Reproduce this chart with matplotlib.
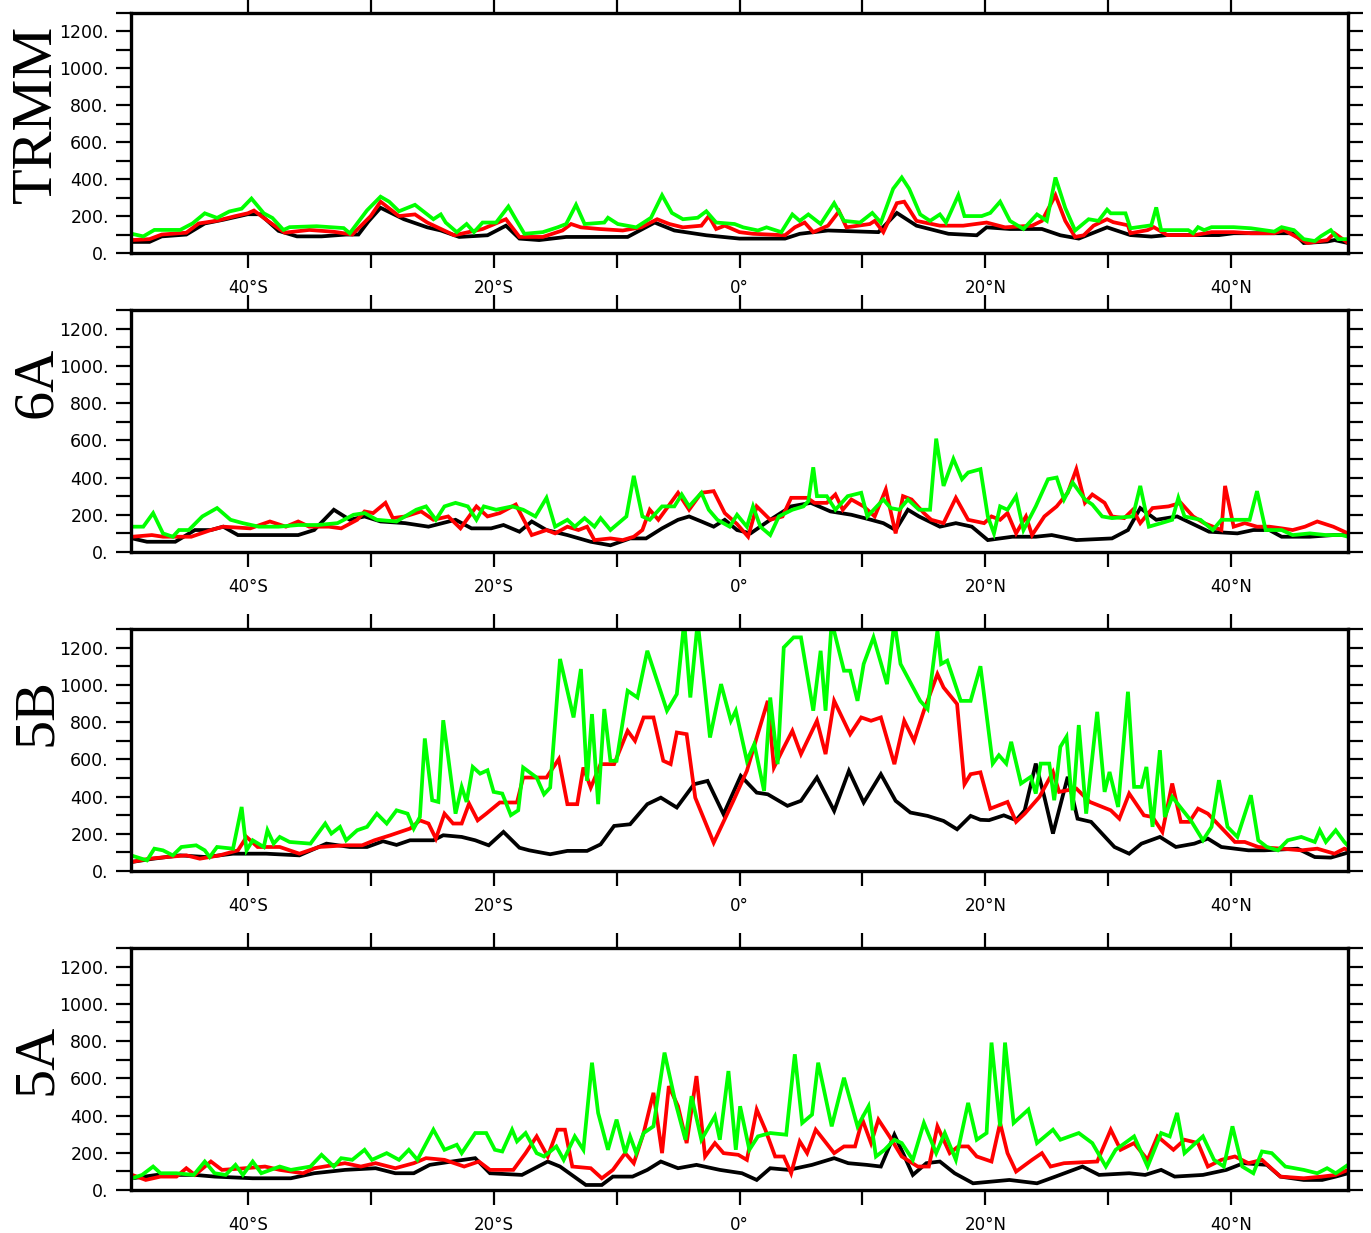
import matplotlib
matplotlib.use("Agg")
import matplotlib.pyplot as plt
from matplotlib.ticker import MultipleLocator, FuncFormatter

# panel names
panels = ["TRMM", "6A", "5B", "5A"]

# ---- TRMM ----
trmm_blk_lat = [-49.5, -48, -47, -45, -43.5, -42, -40, -39, -37.5, -36, -34, -32, -31, -30.2, -29.2, -27.3,
                -25.4, -24.3, -22.8, -20.5, -19.0, -17.9, -16.3, -14.1, -9.1, -6.9, -5.3, -2.7, 0.0, 3.7, 4.9,
                7.2, 11.3, 12.8, 14.4, 17.0, 19.3, 20.1, 22.0, 24.6, 26.1, 27.6, 29.9, 31.8, 33.5, 34.8, 39.0,
                40.2, 43.5, 45.1, 45.9, 47.8, 48.4, 49.5]
trmm_blk = [60, 60, 90, 100, 160, 180, 210, 210, 120, 90, 90, 100, 100, 170, 245, 183,
            139, 122, 87, 96, 148, 78, 70, 87, 87, 165, 122, 96, 78, 78, 104,
            122, 113, 217, 148, 104, 96, 139, 130, 130, 96, 78, 139, 97, 89, 97, 97,
            107, 107, 107, 54, 62, 70, 54]
trmm_red_lat = [-49.5, -48, -47, -45, -44, -42.5, -41, -40, -39.5, -38.5, -37, -35, -33, -31.5, -30, -29.2,
                -27.7, -26.4, -25.4, -23.2, -20.9, -19.0, -17.9, -16.0, -14.4, -13.7, -12.9, -11.4, -9.5, -8.0,
                -6.7, -5.7, -4.6, -3.1, -2.5, -1.9, -1.2, 0.0, 1.1, 3.7, 4.5, 5.3, 6.0, 7.2, 8.1, 8.7, 10.6,
                11.0, 11.7, 12.8, 13.4, 14.4, 16.3, 18.2, 20.1, 21.6, 23.8, 24.6, 25.7, 26.5, 27.3, 28.0, 28.8,
                29.9, 30.4, 31.6, 31.8, 33.2, 33.7, 34.8, 37.0, 38.4, 40.2, 41.6, 43.5, 44.3, 46.2, 47.8, 48.4,
                49.5]
trmm_red = [70, 75, 100, 110, 160, 175, 200, 215, 230, 180, 110, 125, 115, 100, 200, 278,
            200, 209, 165, 96, 130, 183, 87, 87, 122, 157, 139, 130, 122, 139,
            183, 157, 139, 148, 200, 130, 148, 113, 104, 96, 139, 165, 113, 148, 226, 139, 157,
            174, 113, 270, 278, 174, 148, 148, 165, 139, 148, 174, 313, 174, 87, 96, 148,
            183, 167, 150, 107, 124, 140, 97, 97, 113, 113, 107, 107, 124, 54, 70, 107,
            54]
trmm_grn_lat = [-49.5, -48.5, -47.6, -45.5, -44.5, -43.5, -42.5, -41.5, -40.5, -39.7, -38.7, -38.0, -37.1,
                -36.6, -34.4, -32.2, -31.7, -30.3, -29.2, -28.5, -27.7, -26.4, -25.4, -24.9, -24.3, -23.9,
                -23.0, -22.2, -21.6, -20.9, -19.8, -18.8, -18.2, -17.5, -16.0, -14.8, -14.1, -13.3, -12.6,
                -11.0, -10.7, -9.9, -8.4, -7.2, -6.3, -5.5, -4.6, -3.4, -2.7, -1.9, -0.4, 0.3, 1.5, 2.2, 3.4,
                4.3, 4.9, 5.6, 6.6, 7.7, 8.5, 9.8, 10.8, 11.5, 12.5, 13.2, 13.8, 14.7, 15.5, 16.3, 16.8, 17.8,
                18.3, 19.7, 20.4, 21.2, 22.0, 23.1, 24.2, 25.0, 25.7, 26.5, 27.3, 28.4, 29.2, 29.9, 30.2, 31.4,
                31.8, 33.5, 33.9, 34.3, 36.5, 36.9, 37.3, 37.8, 38.4, 40.2, 41.6, 43.5, 44.1, 45.1, 45.9, 46.8,
                47.3, 48.1, 48.7, 49.5]
trmm_grn = [105, 90, 125, 125, 160, 215, 190, 225, 240, 295, 215, 190, 125,
            140, 145, 135, 107, 231, 305, 278, 226, 261, 209, 183, 209, 165,
            113, 157, 113, 165, 165, 252, 183, 104, 113, 139, 157, 261, 157,
            165, 191, 157, 139, 191, 313, 217, 183, 191, 226, 165, 157, 139, 122, 139, 113,
            209, 174, 209, 157, 270, 174, 165, 217, 165, 348, 409, 348, 209, 174, 209, 165, 313,
            200, 200, 217, 278, 174, 130, 209, 174, 409, 244, 122, 183, 174, 235, 215, 215,
            134, 150, 247, 124, 124, 107, 140, 124, 140, 140, 134, 116, 140, 124, 75, 65,
            91, 124, 75, 75]

# ---- 6A ----
a6_blk_lat = [-49.4, -48.2, -45.9, -44.3, -43.0, -42.0, -40.8, -39.1, -35.9, -34.6, -33.0, -31.7, -30.5,
              -29.2, -27.2, -25.3, -23.1, -21.8, -20.2, -19.2, -17.9, -16.9, -15.7, -14.0, -12.1, -10.5,
              -8.9, -7.6, -6.3, -5.0, -4.1, -3.1, -2.1, -1.2, -0.2, 0.9, 2.5, 4.2, 5.8, 7.4, 9.1, 10.7,
              11.7, 12.7, 13.7, 14.6, 16.3, 17.6, 18.9, 20.2, 22.2, 24.1, 25.4, 27.4, 30.3, 31.6, 32.6,
              33.9, 35.6, 38.2, 40.5, 41.8, 43.1, 44.1, 46.4, 48.3, 49.5]
a6_blk = [73, 55, 55, 118, 118, 136, 91, 91, 91, 118, 227, 173, 191,
          164, 155, 136, 173, 127, 127, 145, 109, 164, 118, 91, 55, 36,
          73, 73, 127, 173, 191, 164, 136, 173, 118, 100, 173, 245, 264, 218, 200, 173,
          155, 118, 227, 191, 136, 155, 136, 64, 82, 82, 91, 64, 73, 118, 236,
          173, 191, 109, 100, 118, 118, 82, 82, 91, 91]
a6_red_lat = [-49.4, -47.8, -46.9, -44.6, -43.0, -42.0, -39.8, -38.2, -36.9, -35.9, -35.0, -33.4, -32.4,
              -31.1, -30.5, -29.8, -28.8, -28.2, -27.2, -25.9, -24.9, -23.7, -22.7, -21.4, -20.5, -19.5,
              -18.2, -16.9, -15.7, -15.0, -14.0, -13.1, -12.4, -11.8, -10.5, -9.5, -8.6, -7.9, -7.3, -6.6,
              -6.0, -5.0, -4.1, -3.1, -2.1, -1.2, -0.2, 0.7, 1.4, 2.5, 3.5, 4.2, 5.5, 6.1, 7.1, 7.8, 8.4,
              9.1, 10.1, 11.0, 11.9, 12.7, 13.3, 14.0, 15.0, 15.6, 16.6, 17.6, 18.6, 19.9, 20.5, 21.2, 21.8,
              22.5, 23.3, 23.8, 24.8, 25.8, 26.7, 27.4, 28.1, 28.7, 29.7, 30.3, 31.3, 32.0, 32.6, 33.6, 34.9,
              35.9, 36.9, 37.8, 39.2, 39.5, 40.2, 41.1, 42.1, 43.1, 44.1, 45.0, 46.0, 47.0, 48.3, 49.5]
a6_red = [82, 91, 82, 82, 118, 136, 127, 164, 136, 164, 136, 136, 127,
          173, 218, 209, 264, 182, 191, 218, 173, 191, 127, 245, 191, 209,
          255, 91, 118, 100, 136, 118, 136, 64, 73, 64, 82, 118, 227, 173,
          227, 318, 227, 318, 327, 209, 150, 82, 245, 173, 191, 291, 291, 264, 264, 309, 227,
          282, 245, 191, 336, 100, 300, 282, 209, 173, 155, 291, 173, 155, 191, 173, 209,
          100, 191, 91, 191, 245, 318, 445, 264, 309, 264, 191, 182, 227, 155, 236, 245,
          264, 191, 155, 118, 355, 136, 155, 136, 136, 127, 118, 136, 164, 136, 100]
a6_grn_lat = [-49.4, -48.5, -47.7, -46.9, -46.1, -45.6, -44.8, -43.7, -42.5, -41.4, -40.4, -39.1, -37.5,
              -35.9, -34.3, -32.7, -31.4, -30.5, -29.5, -27.9, -26.3, -25.5, -24.7, -24.0, -23.1, -22.1,
              -21.4, -20.8, -19.8, -18.5, -17.6, -16.6, -15.7, -15.0, -14.0, -13.4, -12.6, -11.8, -11.3,
              -10.5, -9.2, -8.6, -7.9, -7.3, -6.3, -5.3, -4.7, -4.1, -3.1, -2.5, -1.8, -0.8, -0.2, 0.6, 1.1,
              1.7, 2.5, 3.2, 4.3, 5.2, 5.6, 6.0, 6.3, 7.1, 7.8, 8.8, 9.9, 10.4, 11.7, 12.3, 13.0, 13.7, 14.6,
              15.5, 16.0, 16.6, 17.4, 18.1, 18.6, 19.6, 20.2, 20.7, 21.2, 21.8, 22.5, 23.1, 24.1, 25.1, 25.8,
              26.4, 27.1, 28.1, 28.7, 29.5, 30.3, 32.0, 32.6, 33.3, 34.3, 35.2, 35.7, 36.2, 37.5, 38.5, 39.2,
              40.8, 41.5, 42.1, 42.8, 44.1, 45.0, 46.4, 47.7, 49.0, 49.5]
a6_grn = [136, 136, 209, 100, 82, 118, 118, 191, 236, 173, 155, 136, 136,
          145, 145, 155, 200, 209, 173, 164, 227, 245, 173, 245, 264, 245,
          173, 245, 227, 245, 227, 191, 291, 136, 173, 136, 182, 136, 182,
          118, 191, 409, 191, 173, 245, 245, 309, 245, 318, 227, 173, 136, 200, 136, 245,
          136, 91, 191, 227, 245, 273, 455, 300, 300, 227, 300, 318, 191, 282, 236, 227, 282, 227,
          227, 609, 355, 500, 391, 427, 445, 191, 100, 245, 227, 300, 118, 245, 391, 400,
          282, 373, 282, 255, 191, 182, 191, 355, 136, 155, 173, 291, 191, 173, 118, 173,
          173, 173, 327, 118, 118, 91, 100, 91, 91, 82]

# ---- 5B ----
b5_blk_lat = [-49.5, -47.7, -45.5, -43.4, -41.2, -38.5, -35.8, -33.6, -31.7, -30.3, -29.0, -27.9, -26.8,
              -24.9, -24.1, -22.6, -21.5, -20.4, -19.2, -17.9, -17.1, -15.4, -14.0, -12.4, -11.3, -10.2,
              -8.9, -7.5, -6.4, -5.1, -3.7, -2.6, -1.3, 0.1, 1.4, 2.3, 3.9, 5.0, 6.3, 7.7, 8.9, 10.1, 11.5,
              12.7, 13.9, 15.3, 16.6, 17.7, 18.8, 19.6, 20.3, 21.5, 22.5, 23.2, 24.1, 24.8, 25.5, 26.7, 27.5,
              28.6, 30.5, 31.7, 32.7, 34.2, 35.5, 37.0, 38.1, 39.2, 41.4, 42.7, 45.4, 46.8, 48.1, 49.2, 49.6]
b5_blk = [48, 66, 84, 75, 93, 93, 84, 147, 129, 129, 160, 140, 165,
          165, 192, 183, 165, 138, 210, 125, 111, 90, 108, 108, 143, 242,
          251, 359, 394, 341, 466, 484, 305, 511, 421, 412, 350, 377, 502, 323, 538, 368, 520,
          377, 314, 296, 269, 224, 296, 275, 273, 299, 273, 326, 577, 398, 201, 506, 281,
          264, 129, 93, 147, 183, 129, 147, 174, 129, 111, 111, 120, 75, 72, 93, 102]
b5_red_lat = [-49.5, -48.0, -46.6, -45.0, -43.9, -42.3, -40.8, -40.1, -39.2, -37.4, -35.8, -34.2, -32.0,
              -30.7, -29.7, -28.4, -26.8, -26.0, -25.3, -24.7, -24.0, -23.3, -22.6, -22.0, -21.3, -20.6,
              -19.5, -18.1, -17.6, -15.7, -14.7, -14.0, -13.2, -12.7, -12.1, -11.3, -10.2, -9.1, -8.5, -7.8,
              -7.0, -6.2, -5.6, -5.1, -4.3, -3.6, -2.1, -0.5, 0.6, 1.4, 2.3, 2.8, 3.6, 4.3, 5.0, 6.3, 7.0,
              7.7, 9.0, 9.9, 10.7, 11.5, 12.6, 13.4, 14.2, 15.0, 16.1, 16.6, 17.7, 18.3, 18.8, 19.6, 20.4,
              21.8, 22.5, 23.2, 24.4, 25.5, 26.0, 27.4, 28.5, 30.2, 30.9, 31.7, 32.9, 33.6, 34.4, 35.2, 35.9,
              36.6, 37.3, 38.1, 39.0, 40.3, 41.1, 42.2, 44.1, 45.7, 47.0, 48.4, 49.2, 49.6]
b5_red = [48, 66, 75, 84, 66, 84, 111, 183, 129, 129, 93, 129, 138,
          138, 165, 192, 228, 272, 255, 174, 308, 255, 255, 362, 272, 308,
          368, 368, 502, 502, 601, 359, 359, 556, 448, 574, 574, 753, 699, 825,
          825, 592, 574, 744, 735, 394, 152, 377, 538, 717, 914, 556, 663, 753, 628, 807, 628,
          914, 735, 825, 807, 825, 574, 807, 699, 861, 1058, 986, 897, 466, 520, 530, 335,
          371, 264, 308, 398, 532, 425, 443, 371, 326, 281, 416, 299, 290, 210, 470, 264,
          264, 335, 308, 246, 156, 156, 129, 120, 111, 120, 93, 120, 111]
b5_grn_lat = [-49.5, -48.2, -47.6, -46.9, -46.1, -45.4, -44.2, -43.5, -43.1, -42.5, -41.2, -40.5, -40.1,
              -39.6, -38.7, -38.4, -37.9, -37.4, -36.6, -34.9, -33.7, -33.2, -32.5, -32.0, -31.1, -30.3,
              -29.5, -28.7, -27.9, -27.0, -26.5, -26.0, -25.6, -25.0, -24.5, -24.1, -23.7, -23.1, -22.6,
              -22.2, -21.7, -21.1, -20.5, -20.0, -19.3, -18.6, -18.0, -17.6, -16.5, -15.9, -15.4, -14.6,
              -13.5, -12.9, -12.4, -12.0, -11.5, -11.0, -10.5, -10.0, -9.1, -8.3, -7.5, -6.7, -5.9, -5.1,
              -4.5, -4.0, -3.4, -2.4, -1.5, -0.7, -0.3, 0.6, 1.2, 2.0, 2.5, 3.1, 3.6, 4.4, 5.0, 6.0, 6.6,
              7.0, 7.5, 8.5, 9.0, 9.6, 10.1, 10.9, 12.0, 12.6, 13.1, 14.7, 15.3, 16.1, 16.4, 16.9, 18.0,
              18.8, 19.6, 20.6, 21.1, 21.7, 22.1, 22.9, 23.7, 24.1, 24.5, 25.2, 25.6, 26.1, 26.6, 27.1,
              27.6, 28.2, 29.1, 29.7, 30.1, 30.8, 31.6, 32.1, 32.7, 33.1, 33.6, 34.2, 34.6, 35.2, 36.7,
              37.7, 38.4, 39.0, 39.7, 40.5, 41.6, 42.2, 42.9, 43.8, 44.6, 45.7, 46.8, 47.2, 47.7, 48.5,
              49.2, 49.6]
b5_grn = [84, 57, 120, 111, 84, 129, 138, 111, 75, 129, 120, 344, 111,
          165, 129, 219, 147, 183, 156, 147, 255, 201, 237, 165, 219, 237,
          308, 255, 326, 308, 228, 290, 712, 380, 371, 810, 613, 308, 452,
          371, 559, 523, 541, 425, 416, 300, 326, 556, 502, 412, 448, 1139,
          825, 1085, 484, 843, 359, 870, 592, 592, 968, 932, 1183, 1022, 861, 950,
          1340, 932, 1340, 717, 1004, 807, 861, 592, 681, 430, 932, 574, 1201, 1255, 1255, 861, 1183,
          861, 1340, 1076, 1076, 914, 1112, 1255, 1004, 1340, 1112, 914, 870, 1291, 1112, 1130, 914,
          914, 1100, 577, 622, 577, 694, 470, 506, 416, 577, 577, 380, 667, 721, 326,
          784, 308, 855, 425, 532, 344, 963, 452, 452, 559, 237, 649, 290, 398, 273,
          165, 237, 488, 237, 183, 407, 165, 129, 111, 165, 183, 156, 219, 156, 219,
          156, 129]

# ---- 5A ----
a5_blk_lat = [-49.4, -47.4, -44.3, -42.7, -39.6, -36.5, -34.6, -32.1, -29.6, -28.0, -26.5, -25.2, -23.4,
              -21.5, -20.3, -17.7, -15.6, -14.6, -12.5, -11.2, -10.3, -8.7, -7.5, -6.4, -5.0, -3.5, -1.6,
              0.2, 1.4, 2.5, 4.0, 5.9, 7.7, 8.85, 10.35, 11.5, 12.6, 13.3, 14.1, 15.2, 16.3, 17.5, 19.0,
              21.95, 24.2, 25.7, 27.9, 29.25, 31.7, 33.0, 34.3, 35.4, 37.7, 39.6, 41.0, 42.9, 44.0, 45.9,
              47.4, 48.5, 49.5]
a5_blk = [63, 81, 81, 72, 63, 63, 90, 108, 117, 90, 90, 135, 153,
          171, 90, 81, 153, 126, 27, 27, 72, 72, 108, 153, 117, 135, 108,
          90, 54, 117, 108, 135, 171, 144, 135, 126, 297, 198, 81, 144, 153, 90, 36,
          54, 36, 72, 126, 81, 90, 81, 108, 72, 81, 108, 144, 135, 72, 54,
          54, 72, 90]
a5_red_lat = [-49.4, -48.3, -47.1, -45.8, -45.0, -44.3, -43.0, -42.1, -40.2, -38.6, -37.4, -35.5, -34.6,
              -32.1, -30.8, -29.6, -28.0, -26.5, -25.5, -24.0, -22.4, -21.2, -20.3, -18.4, -17.4, -16.5,
              -15.6, -14.8, -14.2, -13.6, -12.1, -11.2, -10.3, -9.3, -8.6, -7.8, -7.0, -6.3, -5.75, -5.0,
              -4.3, -3.5, -2.8, -2.0, -1.3, -0.1, 0.6, 1.4, 2.1, 2.9, 3.6, 4.2, 4.9, 5.5, 6.2, 7.7, 8.5, 9.4,
              10.0, 10.7, 11.3, 12.2, 13.2, 14.5, 15.4, 16.1, 17.1, 17.8, 18.6, 19.3, 20.5, 21.2, 21.8, 22.5,
              23.8, 24.6, 25.3, 26.4, 29.1, 30.2, 31.0, 32.1, 33.2, 34.0, 35.3, 36.2, 37.3, 38.1, 39.2, 40.3,
              41.4, 42.5, 44.0, 45.9, 47.4, 48.5, 49.5]
a5_red = [81, 54, 72, 72, 117, 81, 153, 108, 117, 126, 108, 90, 117,
          144, 126, 144, 117, 144, 171, 162, 126, 153, 108, 108, 198, 288,
          180, 324, 324, 126, 117, 63, 108, 198, 144, 306, 522, 198, 558, 450,
          252, 612, 180, 252, 198, 189, 162, 432, 324, 180, 180, 90, 261, 198, 324, 198, 234, 234,
          378, 252, 378, 288, 180, 126, 126, 342, 198, 234, 234, 180, 153, 360, 198, 99,
          162, 198, 126, 144, 153, 324, 216, 252, 162, 288, 216, 270, 252, 126, 162, 180,
          144, 162, 72, 63, 72, 81, 108]
a5_grn_lat = [-49.4, -48.6, -47.7, -47.1, -45.8, -44.4, -43.5, -42.7, -41.8, -41.0, -40.4, -39.6, -38.9,
              -37.4, -36.5, -34.9, -34.0, -33.0, -32.4, -31.5, -30.5, -29.9, -28.7, -27.7, -26.9, -26.2,
              -24.9, -24.0, -23.0, -22.6, -21.5, -20.6, -19.9, -19.3, -18.5, -18.1, -17.4, -16.5, -15.9,
              -14.9, -14.3, -13.4, -12.7, -12.0, -11.5, -10.7, -10.0, -9.3, -8.9, -8.4, -7.8, -7.0, -6.1,
              -5.2, -4.4, -3.9, -3.1, -2.0, -1.6, -0.9, -0.3, 0.05, 0.8, 1.5, 2.5, 3.8, 4.5, 5.1, 5.9, 6.4,
              7.5, 8.5, 9.6, 10.5, 11.1, 11.8, 12.6, 13.2, 14.1, 15.0, 16.0, 16.7, 17.6, 18.6, 19.3, 20.1,
              20.5, 21.2, 21.6, 22.3, 23.5, 24.2, 25.5, 26.1, 27.6, 28.7, 29.8, 30.6, 32.1, 33.2, 34.3, 35.0,
              35.6, 36.2, 37.7, 38.6, 39.4, 40.1, 40.9, 41.8, 42.5, 43.3, 44.4, 45.9, 47.0, 47.8, 48.5, 49.5]
a5_grn = [63, 81, 126, 90, 90, 81, 153, 90, 81, 135, 81, 153, 90,
          126, 108, 126, 189, 126, 171, 162, 216, 162, 198, 162, 216, 162,
          324, 216, 243, 198, 306, 306, 216, 207, 324, 261, 306, 198, 180,
          234, 162, 288, 216, 684, 414, 216, 378, 198, 288, 198, 306, 342, 738,
          468, 270, 504, 270, 396, 270, 639, 216, 450, 216, 288, 306, 297, 729, 360, 405, 684,
          342, 603, 342, 450, 180, 216, 270, 252, 162, 360, 198, 306, 162, 468, 270, 306,
          792, 342, 792, 360, 432, 252, 324, 270, 306, 252, 126, 216, 288, 126, 306, 288,
          414, 198, 288, 162, 126, 342, 126, 90, 207, 198, 126, 108, 90, 117, 90, 135]

series = {
    "TRMM": [(trmm_blk_lat, trmm_blk), (trmm_red_lat, trmm_red), (trmm_grn_lat, trmm_grn)],
    "6A": [(a6_blk_lat, a6_blk), (a6_red_lat, a6_red), (a6_grn_lat, a6_grn)],
    "5B": [(b5_blk_lat, b5_blk), (b5_red_lat, b5_red), (b5_grn_lat, b5_grn)],
    "5A": [(a5_blk_lat, a5_blk), (a5_red_lat, a5_red), (a5_grn_lat, a5_grn)],
}
colors = ["#000000", "#ff0000", "#00ff00"]

W, H = 1371, 1233
fig = plt.figure(figsize=(W / 100, H / 100), dpi=100)

# axes boxes in pixels (top, bottom) and label centres
tops = [13, 310, 629, 948]
bots = [253, 552, 871, 1190]
label_y = [114, 382, 712, 1059]
left, right = 131, 1348


def lat_fmt(v, pos):
    v = int(round(v))
    if v == 0:
        return "0\u00b0"
    if v < 0:
        return "%d\u00b0S" % (-v)
    return "%d\u00b0N" % v


for i, name in enumerate(panels):
    ax = fig.add_axes([left / W, 1 - bots[i] / H, (right - left) / W, (bots[i] - tops[i]) / H])
    for (lat, val), c in zip(series[name], colors):
        ax.plot(lat, val, color=c, lw=2.7, solid_joinstyle="miter")
    ax.set_xlim(-49.5, 49.5)
    ax.set_ylim(0, 1300)
    ax.xaxis.set_major_locator(MultipleLocator(20))
    ax.xaxis.set_minor_locator(MultipleLocator(10))
    ax.yaxis.set_major_locator(MultipleLocator(200))
    ax.yaxis.set_minor_locator(MultipleLocator(100))
    ax.xaxis.set_major_formatter(FuncFormatter(lat_fmt))
    ax.yaxis.set_major_formatter(FuncFormatter(lambda v, p: "%d." % int(v)))
    ax.tick_params(which="both", direction="out", length=11, width=1.6,
                   top=True, right=True, color="black")
    ax.tick_params(axis="y", which="both", pad=5, labelsize=12.5)
    ax.tick_params(axis="x", which="both", pad=8, labelsize=12)
    for s in ax.spines.values():
        s.set_linewidth(2.4)
    fig.text(37 / W, 1 - label_y[i] / H, name, rotation=90, ha="center", va="center",
             fontsize=42, family="Liberation Serif")

fig.savefig("out.png", dpi=100)
